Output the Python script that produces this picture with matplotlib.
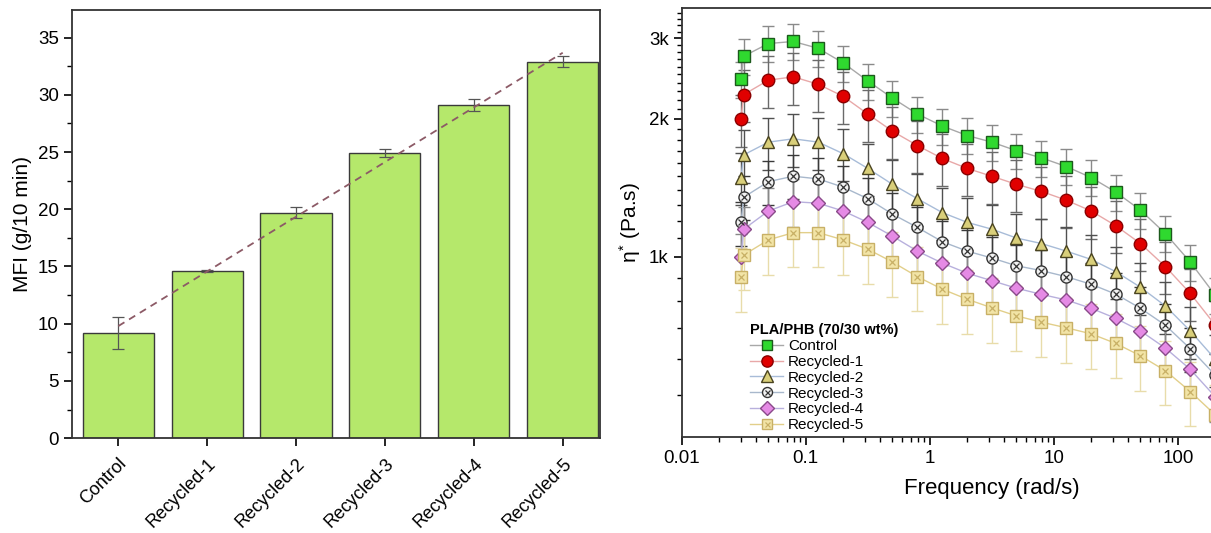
import numpy as np
import matplotlib
matplotlib.use("Agg")
import matplotlib.pyplot as plt
from matplotlib.ticker import FixedLocator, MultipleLocator, LogLocator, NullFormatter
from matplotlib.lines import Line2D

plt.rcParams["font.family"] = ["Liberation Sans", "DejaVu Sans"]
plt.rcParams["mathtext.fontset"] = "custom"
plt.rcParams["mathtext.rm"] = "Liberation Sans"
plt.rcParams["mathtext.it"] = "Liberation Sans"

# ── MFI data (left panel) ─────────────────────────────────────────────────────
samples = ["Control", "Recycled-1", "Recycled-2", "Recycled-3", "Recycled-4", "Recycled-5"]
mfi = [9.2, 14.6, 19.7, 24.9, 29.1, 32.9]
mfi_err = [1.4, 0.1, 0.5, 0.35, 0.5, 0.5]

# ── Complex viscosity data (right panel) ──────────────────────────────────────
freq = [0.030, 0.0316, 0.05, 0.0794, 0.126, 0.2, 0.316, 0.5, 0.794, 1.26, 2.0,
        3.16, 5.0, 7.94, 12.6, 20.0, 31.6, 50.0, 79.4, 126.0, 200.0]
eta_control = [2440, 2740, 2920, 2950, 2850, 2650, 2420, 2220, 2050, 1930, 1840,
               1780, 1705, 1645, 1575, 1490, 1385, 1265, 1125, 975, 826]
eta_rec1 = [2000, 2260, 2430, 2470, 2380, 2240, 2050, 1880, 1750, 1640, 1560,
            1500, 1440, 1390, 1330, 1260, 1170, 1070, 953, 833, 711]
eta_rec2 = [1490, 1670, 1780, 1810, 1780, 1680, 1560, 1440, 1340, 1250, 1190,
            1150, 1100, 1070, 1030, 988, 929, 859, 782, 690, 599]
eta_rec3 = [1190, 1350, 1460, 1500, 1480, 1420, 1340, 1240, 1160, 1080, 1030,
            995, 957, 934, 906, 872, 830, 773, 710, 631, 553]
eta_rec4 = [1000, 1150, 1260, 1320, 1310, 1260, 1190, 1110, 1030, 970, 922,
            888, 855, 829, 806, 773, 735, 690, 633, 569, 496]
eta_rec5 = [903, 1010, 1090, 1130, 1130, 1090, 1040, 975, 906, 851, 809,
            775, 744, 721, 701, 680, 648, 609, 565, 509, 453]
rel_err = [0.09, 0.13, 0.13, 0.11, 0.12, 0.16]   # relative error bar size per series

series = [eta_control, eta_rec1, eta_rec2, eta_rec3, eta_rec4, eta_rec5]

styles = [
    dict(marker="s", mfc="#2fd92f", mec="#1c5a1c", line="#a8a8a8", ecol="#8a8a8a", ms=8),
    dict(marker="o", mfc="#e00000", mec="#8a0000", line="#e8a8a8", ecol="#6a6a6a", ms=9),
    dict(marker="^", mfc="#d9cf7a", mec="#4a4420", line="#a8bcd8", ecol="#505050", ms=9),
    dict(marker="o", mfc="#f2f2f2", mec="#333333", line="#a8b8cc", ecol="#3a3a3a", ms=8),
    dict(marker="D", mfc="#e58ae5", mec="#8a4a8a", line="#b8b0dd", ecol="#888888", ms=7.5),
    dict(marker="s", mfc="#f2e4a6", mec="#c8b066", line="#e2cf8a", ecol="#e8dcaa", ms=8),
]
overlay_x = [False, False, False, True, False, True]

fig = plt.figure(figsize=(12.11, 5.33), dpi=100)

# ── Left: bar chart ───────────────────────────────────────────────────────────
ax1 = fig.add_axes([0.0595, 0.178, 0.436, 0.803])
x = np.arange(len(samples))
ax1.bar(x, mfi, width=0.8, color="#b5e86b", edgecolor="#3a3a3a", linewidth=1.0, zorder=2)
ax1.errorbar(x, mfi, yerr=mfi_err, fmt="none", ecolor="#555555", elinewidth=0.9,
             capsize=4, capthick=0.9, zorder=3)
coef = np.polyfit(x, mfi, 1)
ax1.plot(x, np.polyval(coef, x), ls=(0, (4, 3)), color="#8c5a66", lw=1.3, zorder=4)

ax1.set_xlim(-0.52, 5.42)
ax1.set_ylim(0, 37.4)
ax1.yaxis.set_major_locator(MultipleLocator(5))
ax1.yaxis.set_minor_locator(MultipleLocator(2.5))
ax1.set_xticks(x)
ax1.set_xticklabels(samples, rotation=45, ha="right", rotation_mode="anchor", fontsize=13)
ax1.tick_params(axis="y", labelsize=13.5, direction="out", length=6, width=1.2)
ax1.tick_params(axis="y", which="minor", direction="out", length=3.5, width=1.0)
ax1.tick_params(axis="x", direction="out", length=6, width=1.2, pad=6)
ax1.set_ylabel("MFI (g/10 min)", fontsize=15)
for s in ax1.spines.values():
    s.set_linewidth(1.3)
    s.set_color("#333333")

# ── Right: complex viscosity ──────────────────────────────────────────────────
ax2 = fig.add_axes([0.563, 0.180, 0.512, 0.805])
handles = []
for vals, st, ox, err, lab in zip(series, styles, overlay_x, rel_err, samples):
    vals = np.array(vals, dtype=float)
    ax2.errorbar(freq, vals, yerr=vals * err, fmt="none", ecolor=st["ecol"],
                 elinewidth=1.0, capsize=4, capthick=1.0, zorder=2)
    ax2.plot(freq, vals, color=st["line"], lw=1.0, zorder=3)
    ax2.plot(freq, vals, ls="none", marker=st["marker"], mfc=st["mfc"], mec=st["mec"],
             ms=st["ms"], mew=1.0, zorder=4)
    h = Line2D([], [], color=st["line"], lw=1.0, marker=st["marker"],
               mfc=st["mfc"], mec=st["mec"], ms=st["ms"] * 0.9, label=lab)
    if ox:
        ax2.plot(freq, vals, ls="none", marker="x", color=st["mec"], ms=st["ms"] * 0.5,
                 mew=0.9, zorder=5)
        hx = Line2D([], [], ls="none", marker="x", color=st["mec"], ms=st["ms"] * 0.45, mew=0.9)
        h = (h, hx)
    handles.append(h)

ax2.set_xscale("log")
ax2.set_yscale("log")
ax2.set_xlim(0.01, 1000)
ax2.set_ylim(405, 3490)
ax2.yaxis.set_major_locator(FixedLocator([1000, 2000, 3000]))
ax2.set_yticklabels(["1k", "2k", "3k"])
ax2.yaxis.set_minor_locator(FixedLocator(np.arange(500, 3500, 100)))
ax2.yaxis.set_minor_formatter(NullFormatter())
ax2.xaxis.set_minor_locator(LogLocator(base=10, subs=np.arange(2, 10), numticks=20))
ax2.xaxis.set_minor_formatter(NullFormatter())
ax2.set_xticks([0.01, 0.1, 1, 10, 100])
ax2.set_xticklabels(["0.01", "0.1", "1", "10", "100"])
ax2.tick_params(axis="both", labelsize=13.5, direction="out", length=6, width=1.2)
ax2.tick_params(axis="both", which="minor", direction="out", length=3.5, width=1.0)
ax2.set_xlabel("Frequency (rad/s)", fontsize=16, labelpad=8)
ax2.set_ylabel(r"$\eta^{*}$ (Pa.s)", fontsize=15)
for s in ax2.spines.values():
    s.set_linewidth(1.3)
    s.set_color("#333333")

leg = ax2.legend(handles=handles, labels=samples, title="PLA/PHB (70/30 wt%)",
                 loc="lower left", bbox_to_anchor=(0.095, -0.01), frameon=False,
                 fontsize=11, handlelength=2.2, handletextpad=0.3, labelspacing=0.12,
                 borderaxespad=0.2)
leg.get_title().set_fontweight("bold")
leg.get_title().set_fontsize(10.5)
leg._legend_box.align = "left"

fig.savefig("out.png", dpi=100)
